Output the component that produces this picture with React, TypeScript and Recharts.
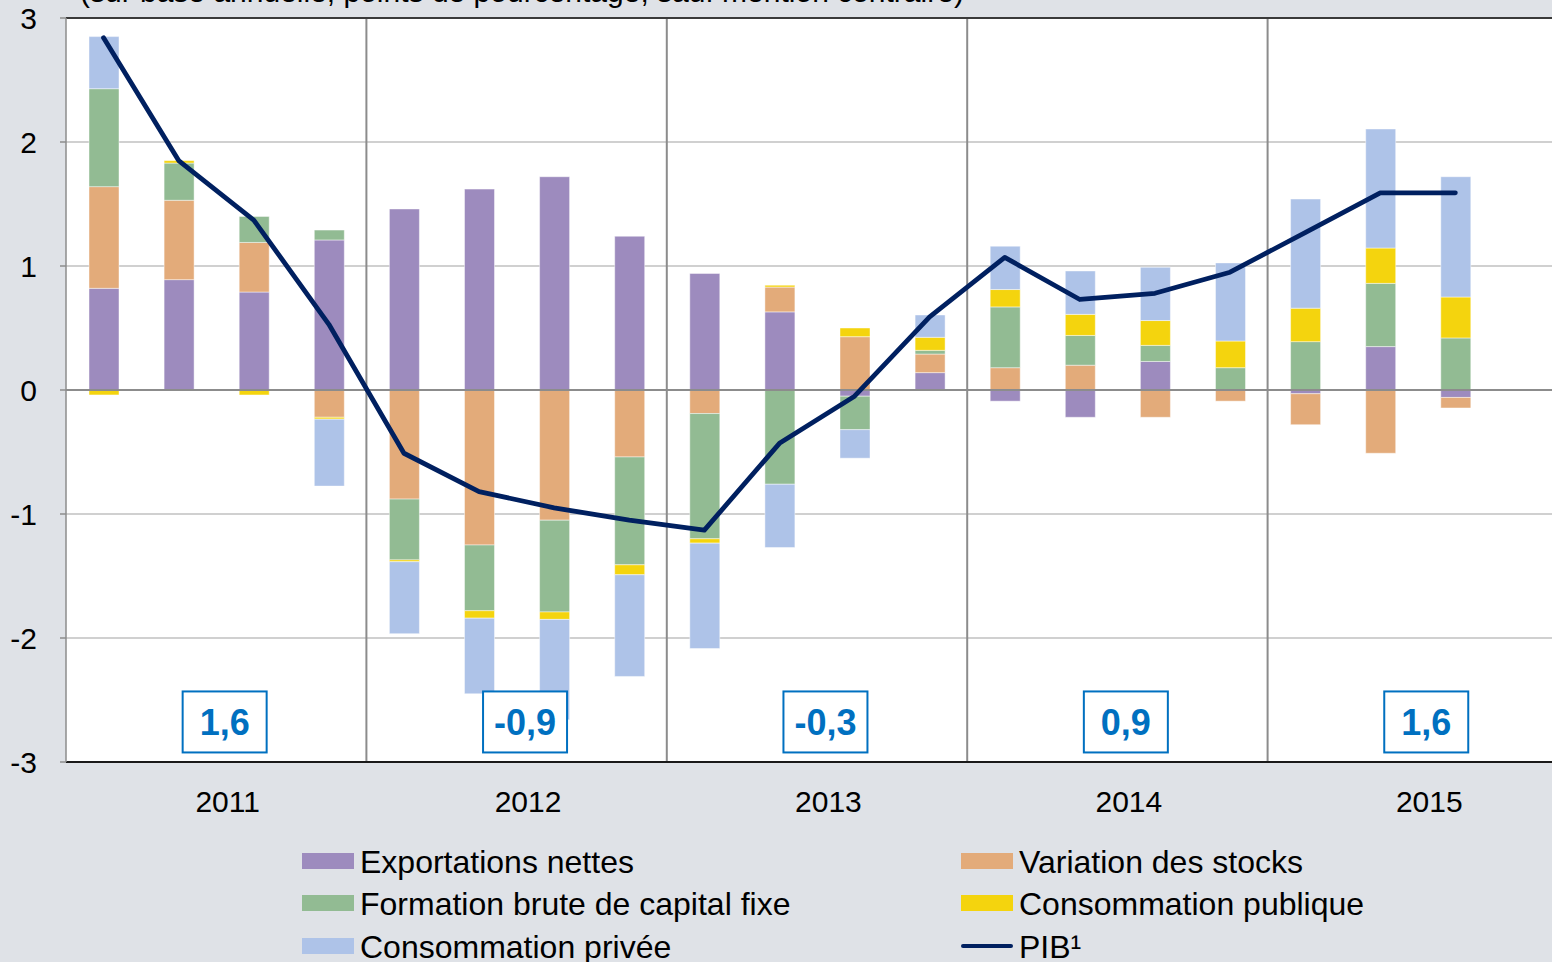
import React from 'react';
import {
  ComposedChart,
  Bar,
  Line,
  XAxis,
  YAxis,
  CartesianGrid,
  ReferenceLine,
  ReferenceDot,
} from 'recharts';

const FONT = '"Liberation Sans", Arial, Helvetica, sans-serif';

const quarters = [
  '2011T1', '2011T2', '2011T3', '2011T4',
  '2012T1', '2012T2', '2012T3', '2012T4',
  '2013T1', '2013T2', '2013T3', '2013T4',
  '2014T1', '2014T2', '2014T3', '2014T4',
  '2015T1', '2015T2', '2015T3', '2015T4',
];
const years = ['2011', '2012', '2013', '2014', '2015'];
const annualGrowth = ['1,6', '-0,9', '-0,3', '0,9', '1,6'];

const exportationsNettes = [0.82, 0.89, 0.79, 1.21, 1.46, 1.62, 1.72, 1.24, 0.94, 0.63, -0.05, 0.14, -0.09, -0.22, 0.23, 0, -0.03, 0.35, -0.06, null];
const variationStocks = [0.82, 0.64, 0.4, -0.22, -0.88, -1.25, -1.05, -0.54, -0.19, 0.2, 0.43, 0.15, 0.18, 0.2, -0.22, -0.09, -0.25, -0.51, -0.085, null];
const formationCapital = [0.79, 0.3, 0.21, 0.08, -0.49, -0.53, -0.74, -0.87, -1.01, -0.76, -0.27, 0.03, 0.49, 0.24, 0.13, 0.18, 0.39, 0.51, 0.42, null];
const consoPublique = [-0.04, 0.02, -0.04, -0.015, -0.015, -0.06, -0.06, -0.08, -0.035, 0.015, 0.07, 0.105, 0.14, 0.17, 0.2, 0.215, 0.27, 0.285, 0.33, null];
const consoPrivee = [0.42, 0, 0, -0.54, -0.58, -0.61, -0.81, -0.82, -0.85, -0.51, -0.23, 0.18, 0.35, 0.35, 0.43, 0.63, 0.88, 0.96, 0.97, null];
const pib = [2.84, 1.85, 1.37, 0.53, -0.51, -0.82, -0.95, -1.05, -1.13, -0.43, -0.05, 0.59, 1.07, 0.73, 0.78, 0.95, 1.27, 1.59, 1.59, null];

const yTicks = [-3, -2, -1, 0, 1, 2, 3];

const C_EXP = '#9d8bbe';
const C_STK = '#e3ab7a';
const C_FBCF = '#92bb93';
const C_PUB = '#f4d40e';
const C_PRIV = '#aec3e8';
const C_PIB = '#002060';
const BG = '#dfe2e7';
const BOX = '#0070c0';

const data = quarters.map((q, i) => ({
  q,
  exp: exportationsNettes[i],
  stk: variationStocks[i],
  fbcf: formationCapital[i],
  pub: consoPublique[i],
  priv: consoPrivee[i],
  pib: pib[i],
}));

const sepGen = (props: any) => {
  const { xAxis, offset } = props || {};
  return [4, 8, 12, 16].map((i) => {
    const s = xAxis && xAxis.scale;
    if (typeof s === 'function') {
      const v = s(quarters[i]);
      if (typeof v === 'number' && isFinite(v)) return v;
    }
    return offset.left + (offset.width * i) / quarters.length;
  });
};

const YearTick = (props: any) => {
  const { x, y, index } = props;
  if (index % 4 !== 1) return <g />;
  return (
    <text x={x + 49} y={y + 42} textAnchor="middle" fontSize={30} fill="#000" fontFamily={FONT}>
      {years[(index - 1) / 4]}
    </text>
  );
};

const makeBox = (label: string) => (p: any) => {
  const cx = p.cx + 46;
  const cy = p.cy;
  return (
    <g>
      <rect x={cx - 42} y={cy - 30.5} width={84} height={61} fill="#ffffff" stroke={BOX} strokeWidth={2} />
      <text x={cx} y={cy + 13.5} textAnchor="middle" fontSize={36} fontWeight="bold" fill={BOX} fontFamily={FONT}>
        {label}
      </text>
    </g>
  );
};

const legendItems = [
  { label: 'Exportations nettes', color: C_EXP, x: 302, cy: 861, kind: 'bar' },
  { label: 'Variation des stocks', color: C_STK, x: 961, cy: 861, kind: 'bar' },
  { label: 'Formation brute de capital fixe', color: C_FBCF, x: 302, cy: 903, kind: 'bar' },
  { label: 'Consommation publique', color: C_PUB, x: 961, cy: 903, kind: 'bar' },
  { label: 'Consommation privée', color: C_PRIV, x: 302, cy: 946, kind: 'bar' },
  { label: 'PIB¹', color: C_PIB, x: 961, cy: 946, kind: 'line' },
];

export default function App() {
  const barStroke = { stroke: '#ffffff', strokeOpacity: 0.45, strokeWidth: 1 };
  return (
    <div
      style={{
        position: 'absolute',
        left: 0,
        top: 0,
        width: 1552,
        height: 962,
        overflow: 'hidden',
        background: BG,
        fontFamily: FONT,
      }}
    >
      <div
        style={{
          position: 'absolute',
          left: 80,
          top: -23,
          fontSize: 30,
          lineHeight: '30px',
          whiteSpace: 'nowrap',
          color: '#000',
          zIndex: 2,
        }}
      >
        (sur base annuelle, points de pourcentage; sauf mention contraire)
      </div>
      <ComposedChart
        width={1580}
        height={962}
        data={data}
        stackOffset="sign"
        barSize={30}
        margin={{ top: 18, right: 12, bottom: 140, left: 0 }}
      >
        <CartesianGrid vertical={false} stroke="#c0c0c0" strokeWidth={1.5} fill="#ffffff" fillOpacity={1} />
        <CartesianGrid horizontal={false} stroke="#8c8c8c" strokeWidth={2} verticalCoordinatesGenerator={sepGen} />
        <XAxis
          dataKey="q"
          interval={0}
          tickLine={false}
          axisLine={{ stroke: '#1a1a1a', strokeWidth: 2 }}
          height={60}
          tick={<YearTick />}
        />
        <YAxis
          domain={[-3, 3]}
          ticks={yTicks}
          interval={0}
          width={66}
          axisLine={{ stroke: '#8c8c8c', strokeWidth: 1.5 }}
          tickLine={{ stroke: '#8c8c8c', strokeWidth: 1.5 }}
          tickSize={6}
          tickMargin={23}
          tick={{ fill: '#000', fontSize: 30, fontFamily: FONT }}
        />
        <Bar dataKey="exp" stackId="a" fill={C_EXP} {...barStroke} isAnimationActive={false} />
        <Bar dataKey="stk" stackId="a" fill={C_STK} {...barStroke} isAnimationActive={false} />
        <Bar dataKey="fbcf" stackId="a" fill={C_FBCF} {...barStroke} isAnimationActive={false} />
        <Bar dataKey="pub" stackId="a" fill={C_PUB} {...barStroke} isAnimationActive={false} />
        <Bar dataKey="priv" stackId="a" fill={C_PRIV} {...barStroke} isAnimationActive={false} />
        <ReferenceLine y={0} stroke="#8c8c8c" strokeWidth={2} />
        <ReferenceLine y={3} stroke="#3a3a3a" strokeWidth={2} />
        {annualGrowth.map((g, i) => (
          <ReferenceDot key={g + i} x={quarters[i * 4 + 1]} y={-2.677} shape={makeBox(g)} />
        ))}
        <Line
          dataKey="pib"
          type="linear"
          stroke={C_PIB}
          strokeWidth={4.8}
          strokeLinecap="round"
          strokeLinejoin="round"
          dot={false}
          activeDot={false}
          connectNulls={false}
          isAnimationActive={false}
        />
      </ComposedChart>
      {legendItems.map((it) => (
        <div key={it.label}>
          {it.kind === 'bar' ? (
            <div
              style={{
                position: 'absolute',
                left: it.x,
                top: it.cy - 8,
                width: 52,
                height: 16,
                background: it.color,
              }}
            />
          ) : (
            <div
              style={{
                position: 'absolute',
                left: it.x,
                top: it.cy - 2,
                width: 52,
                height: 4,
                borderRadius: 2,
                background: it.color,
              }}
            />
          )}
          <div
            style={{
              position: 'absolute',
              left: it.x + 58,
              top: it.cy - 15,
              fontSize: 32,
              lineHeight: '32px',
              whiteSpace: 'nowrap',
              color: '#000',
            }}
          >
            {it.label}
          </div>
        </div>
      ))}
    </div>
  );
}
